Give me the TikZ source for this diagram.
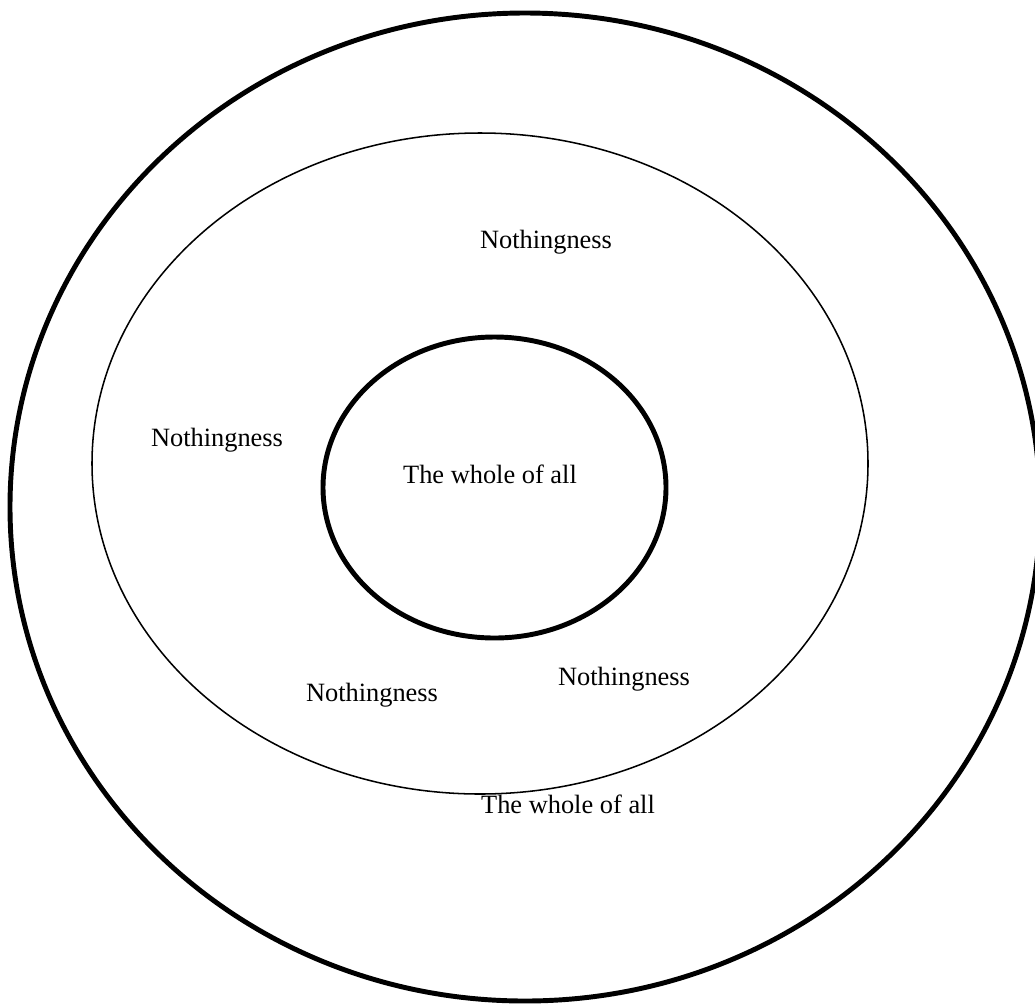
\documentclass[tikz,border=0pt]{standalone}
\usepackage{fontspec}
\setmainfont{Liberation Serif}

\begin{document}
\begin{tikzpicture}[
  x=0.75pt, y=-0.75pt,
  font=\fontsize{19.8}{24}\selectfont,
  thickring/.style={draw=black, line width=3.7pt},
  thinring/.style={draw=black, line width=1.15pt},
  word/.style={anchor=base, inner sep=0pt}
]
\useasboundingbox (0,0) rectangle (1035,1004);

% rings
\draw[thickring] (525,507) ellipse [x radius=515, y radius=494];
\draw[thinring] (480,463.5) ellipse [x radius=388, y radius=330.5];
\draw[thickring] (494.5,487.5) ellipse [x radius=171.5, y radius=150.5];

% labels
\node[word] (noth-top) at (546,248) {Nothingness};
\node[word] (noth-left) at (217,446) {Nothingness};
\node[word] (noth-botleft) at (372,701) {Nothingness};
\node[word] (noth-botright) at (624,685) {Nothingness};
\node[word] (whole-inner) at (490,483) {The whole of all};
\node[word] (whole-outer) at (568,813) {The whole of all};

\end{tikzpicture}
\end{document}
